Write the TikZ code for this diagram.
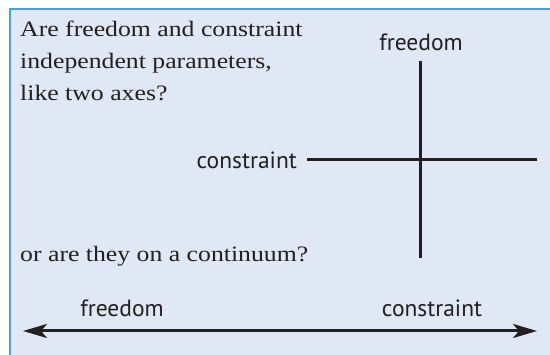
\documentclass[tikz,border=0pt]{standalone}
\usepackage{fontspec}
\setmainfont[FakeStretch=1.17]{Liberation Serif}
\newfontfamily\labelfont{PT Sans}
\usetikzlibrary{arrows.meta}
\definecolor{panelfill}{HTML}{DFE8F4}
\definecolor{panelline}{HTML}{4A9FDC}
\definecolor{ink}{HTML}{231F20}

\begin{document}
\begin{tikzpicture}
	[x=1pt, y=-1pt,
	question/.style ={anchor=base west, inner sep=0pt, text=ink, font=\fontsize{22}{32}\selectfont, align=left},
	axislabel/.style ={inner sep=0pt, text=ink, font=\labelfont\fontsize{23.5}{26}\selectfont},
	axis/.style ={draw=ink, line width=3pt},
	line/.style ={draw=ink, line width=3pt, {Stealth[length=24pt, width=14pt, inset=6pt]}-{Stealth[length=24pt, width=14pt, inset=6pt]}}]
	\useasboundingbox (0, 0) rectangle (550, 355);
	\clip (0, 0) rectangle (550, 355);
	\fill[panelfill] (10, 9) rectangle (560, 365);
	\draw[panelline, line width=2pt] (10, 365) -- (10, 9) -- (560, 9);
	% two axes
	\draw (20, 101) node[question] (q1) {Are freedom and constraint\\independent parameters,\\like two axes?};
	\draw (421, 42) node[axislabel] (free1) {freedom};
	\draw (297, 160) node[axislabel, anchor=east] (con1) {constraint};
	\coordinate (vtop) at (420, 61);
	\coordinate (vbot) at (420, 258);
	\coordinate (hleft) at (307, 160);
	\coordinate (hright) at (537, 160);
	\draw[axis] (vtop) -- (vbot);
	\draw[axis] (hleft) -- (hright);
	% continuum
	\draw (20, 262) node[question] (q2) {or are they on a continuum?};
	\draw (122, 308) node[axislabel] (free2) {freedom};
	\draw (432, 308) node[axislabel] (con2) {constraint};
	\coordinate (cleft) at (23, 331);
	\coordinate (cright) at (537, 331);
	\draw[line] (cleft) -- (cright);
	\end{tikzpicture}
\end{document}
